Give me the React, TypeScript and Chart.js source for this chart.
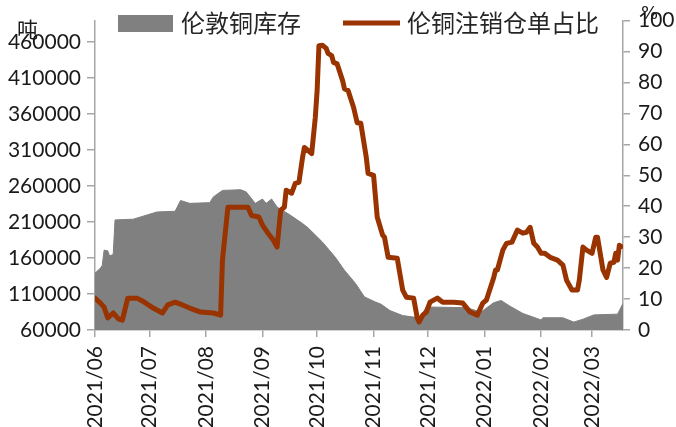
import React, { useEffect, useRef } from "react";
import { Chart, registerables } from "chart.js";

Chart.register(...registerables);

// ---- data ----
const monthTickDates = [
  "2021-06-01", "2021-07-01", "2021-08-01", "2021-09-01", "2021-10-01",
  "2021-11-01", "2021-12-01", "2022-01-01", "2022-02-01", "2022-03-01",
];
const monthTickLabels = [
  "2021/06", "2021/07", "2021/08", "2021/09", "2021/10",
  "2021/11", "2021/12", "2022/01", "2022/02", "2022/03",
];
const lastDate = "2022-03-18";

const inventoryDates = [
  "2021-06-01", "2021-06-04", "2021-06-05", "2021-06-06", "2021-06-08", "2021-06-09",
  "2021-06-11", "2021-06-12", "2021-06-22", "2021-07-05", "2021-07-15", "2021-07-18",
  "2021-07-23", "2021-08-03", "2021-08-05", "2021-08-10", "2021-08-20", "2021-08-23",
  "2021-08-28", "2021-09-01", "2021-09-03", "2021-09-06", "2021-09-09", "2021-09-16",
  "2021-09-23", "2021-09-26", "2021-10-04", "2021-10-11", "2021-10-16", "2021-10-22",
  "2021-10-27", "2021-11-02", "2021-11-05", "2021-11-10", "2021-11-17", "2021-11-23",
  "2021-11-27", "2021-11-30", "2021-12-22", "2021-12-30", "2022-01-06", "2022-01-10",
  "2022-01-15", "2022-01-22", "2022-02-01", "2022-02-02", "2022-02-13", "2022-02-19",
  "2022-02-24", "2022-03-02", "2022-03-15", "2022-03-18",
];
const inventoryValues = [
  139000, 146000, 150000, 171000, 170000, 163000,
  165000, 213000, 214000, 224000, 225000, 240000,
  236000, 237000, 245000, 254000, 255000, 252000,
  236000, 242000, 236000, 242000, 231000, 220000,
  208000, 202000, 182000, 161000, 143000, 125000,
  106000, 99000, 96000, 87000, 80000, 78000,
  79000, 92000, 91000, 85000, 98000, 101000,
  93000, 83000, 74000, 77000, 77000, 71000,
  75000, 81000, 82000, 97000,
];

const ratioDates = [
  "2021-06-01", "2021-06-04", "2021-06-06", "2021-06-08", "2021-06-11", "2021-06-14",
  "2021-06-16", "2021-06-17", "2021-06-19", "2021-06-24", "2021-06-27", "2021-07-03",
  "2021-07-07", "2021-07-08", "2021-07-11", "2021-07-15", "2021-07-19", "2021-07-23",
  "2021-07-29", "2021-08-05", "2021-08-09", "2021-08-10", "2021-08-13", "2021-08-24",
  "2021-08-26", "2021-08-30", "2021-09-01", "2021-09-04", "2021-09-07", "2021-09-09",
  "2021-09-11", "2021-09-13", "2021-09-14", "2021-09-17", "2021-09-19", "2021-09-21",
  "2021-09-23", "2021-09-24", "2021-09-28", "2021-09-30", "2021-10-01", "2021-10-02",
  "2021-10-04", "2021-10-06", "2021-10-07", "2021-10-09", "2021-10-10", "2021-10-12",
  "2021-10-15", "2021-10-16", "2021-10-18", "2021-10-21", "2021-10-23", "2021-10-25",
  "2021-10-28", "2021-10-29", "2021-11-01", "2021-11-03", "2021-11-06", "2021-11-07",
  "2021-11-09", "2021-11-14", "2021-11-17", "2021-11-19", "2021-11-23", "2021-11-25",
  "2021-11-26", "2021-11-28", "2021-11-30", "2021-12-02", "2021-12-06", "2021-12-09",
  "2021-12-15", "2021-12-20", "2021-12-24", "2021-12-28", "2021-12-31", "2022-01-02",
  "2022-01-06", "2022-01-07", "2022-01-08", "2022-01-11", "2022-01-13", "2022-01-16",
  "2022-01-19", "2022-01-22", "2022-01-24", "2022-01-26", "2022-01-28", "2022-01-30",
  "2022-02-01", "2022-02-03", "2022-02-06", "2022-02-10", "2022-02-13", "2022-02-15",
  "2022-02-18", "2022-02-21", "2022-02-22", "2022-02-24", "2022-02-26", "2022-03-01",
  "2022-03-03", "2022-03-04", "2022-03-07", "2022-03-09", "2022-03-11", "2022-03-13",
  "2022-03-14", "2022-03-15", "2022-03-16", "2022-03-17",
];
const ratioValues = [
  10.3, 8.7, 7.4, 3.9, 5.5, 3.5,
  3.2, 5.5, 10.3, 10.3, 9.4, 7.1,
  5.8, 5.5, 8.1, 9.0, 8.1, 7.1,
  5.8, 5.5, 4.8, 22.6, 39.7, 39.7,
  37.0, 36.5, 33.9, 31.3, 29.0, 26.8,
  38.7, 39.7, 45.2, 44.2, 47.4, 47.7,
  55.8, 59.0, 57.0, 68.7, 77.4, 91.9,
  92.0, 91.0, 89.4, 88.7, 86.5, 86.0,
  80.6, 78.0, 77.4, 72.0, 67.0, 66.8,
  55.8, 50.6, 50.0, 36.5, 30.6, 30.0,
  23.5, 23.2, 12.9, 10.6, 10.3, 3.9,
  2.6, 4.8, 5.8, 9.0, 10.3, 9.0,
  9.0, 8.7, 5.8, 4.8, 8.7, 9.7,
  17.0, 19.4, 19.4, 25.8, 28.0, 28.4,
  32.3, 31.3, 31.6, 33.2, 28.0, 26.8,
  24.8, 24.8, 23.5, 22.6, 21.0, 16.1,
  12.9, 12.9, 16.1, 26.8, 25.8, 24.8,
  30.0, 30.0, 19.4, 17.0, 21.6, 21.9,
  24.8, 22.6, 27.4, 27.0,
];

const inventoryTicks = [60000, 110000, 160000, 210000, 260000, 310000, 360000, 410000, 460000];
const ratioTicks = [0, 10, 20, 30, 40, 50, 60, 70, 80, 90, 100];

const inventoryLabel = "伦敦铜库存";
const ratioLabel = "伦铜注销仓单占比";
const leftUnit = "吨";
const rightUnit = "%";

// ---- helpers ----
const ORIGIN = Date.UTC(2021, 5, 1);
const dayOf = (s: string) => {
  const [y, m, d] = s.split("-").map(Number);
  return (Date.UTC(y, m - 1, d) - ORIGIN) / 86400000;
};

const GRAY = "#808080";
const RED = "#993300";
const AXIS = "#a6a6a6";
const TEXT = "#1a1a1a";
const NUM_FONT = { family: "Lato", size: 21 };
const CJK = '"Noto Sans CJK SC", sans-serif';

export default function App() {
  const ref = useRef<HTMLCanvasElement | null>(null);

  useEffect(() => {
    document.body.style.margin = "0";
    const canvas = ref.current;
    if (!canvas) return;

    const decor = {
      id: "decor",
      afterDraw(chart: any) {
        const ctx = chart.ctx;
        ctx.save();
        // legend
        ctx.fillStyle = GRAY;
        ctx.fillRect(118, 15, 55, 17);
        ctx.strokeStyle = RED;
        ctx.lineWidth = 5;
        ctx.beginPath();
        ctx.moveTo(343, 23);
        ctx.lineTo(400, 23);
        ctx.stroke();
        ctx.fillStyle = "#262626";
        ctx.font = `24px ${CJK}`;
        ctx.textBaseline = "middle";
        ctx.textAlign = "left";
        ctx.fillText(inventoryLabel, 181, 23);
        ctx.fillText(ratioLabel, 407, 23);
        // units
        ctx.fillStyle = TEXT;
        ctx.font = `21px ${CJK}`;
        ctx.fillText(leftUnit, 17, 29);
        ctx.font = `18px "DejaVu Sans", sans-serif`;
        ctx.fillText(rightUnit, 641, 14);
        ctx.restore();
      },
    };

    const chart = new Chart(canvas, {
      type: "line",
      data: {
        datasets: [
          {
            label: ratioLabel,
            data: ratioDates.map((d, i) => ({ x: dayOf(d), y: ratioValues[i] })),
            yAxisID: "y1",
            borderColor: RED,
            borderWidth: 5,
            pointRadius: 0,
            fill: false,
            tension: 0,
            borderJoinStyle: "round",
            borderCapStyle: "round",
            order: 0,
          },
          {
            label: inventoryLabel,
            data: inventoryDates.map((d, i) => ({ x: dayOf(d), y: inventoryValues[i] })),
            yAxisID: "y",
            borderColor: GRAY,
            backgroundColor: GRAY,
            borderWidth: 1,
            pointRadius: 0,
            fill: "start",
            tension: 0,
            order: 1,
          },
        ],
      },
      options: {
        responsive: false,
        animation: false,
        devicePixelRatio: 1,
        layout: { padding: { top: 20, left: 0, right: 0, bottom: 0 } },
        plugins: {
          legend: { display: false },
          tooltip: { enabled: false },
        },
        scales: {
          x: {
            type: "linear",
            min: 0,
            max: dayOf(lastDate),
            afterBuildTicks: (s: any) => {
              s.ticks = monthTickDates.map((d) => ({ value: dayOf(d) }));
            },
            afterFit: (s: any) => {
              s.height = 97;
            },
            ticks: {
              autoSkip: false,
              maxRotation: 90,
              minRotation: 90,
              padding: 9,
              color: TEXT,
              font: NUM_FONT,
              callback: (_v: any, i: number) => monthTickLabels[i],
            },
            grid: { drawOnChartArea: false, tickLength: 7, color: AXIS, lineWidth: 1.5 },
            border: { color: AXIS, width: 1.5 },
          },
          y: {
            position: "left",
            min: 60000,
            max: 490000,
            afterBuildTicks: (s: any) => {
              s.ticks = inventoryTicks.map((v) => ({ value: v }));
            },
            afterFit: (s: any) => {
              s.width = 95;
            },
            ticks: {
              padding: 6,
              color: TEXT,
              font: NUM_FONT,
              callback: (v: any) => String(v),
            },
            grid: { drawOnChartArea: false, tickLength: 8, color: AXIS, lineWidth: 1.5 },
            border: { color: AXIS, width: 1.5 },
          },
          y1: {
            position: "right",
            min: 0,
            max: 100,
            afterBuildTicks: (s: any) => {
              s.ticks = ratioTicks.map((v) => ({ value: v }));
            },
            afterFit: (s: any) => {
              s.width = 53;
            },
            ticks: {
              padding: 8,
              color: TEXT,
              font: NUM_FONT,
              callback: (v: any) => String(v),
            },
            grid: { drawOnChartArea: false, tickLength: 7, color: AXIS, lineWidth: 1.5 },
            border: { color: AXIS, width: 1.5 },
          },
        },
      },
      plugins: [decor],
    } as any);

    return () => chart.destroy();
  }, []);

  return (
    <div style={{ width: 676, height: 427, background: "#fff" }}>
      <canvas ref={ref} width={676} height={427} style={{ display: "block" }} />
    </div>
  );
}
